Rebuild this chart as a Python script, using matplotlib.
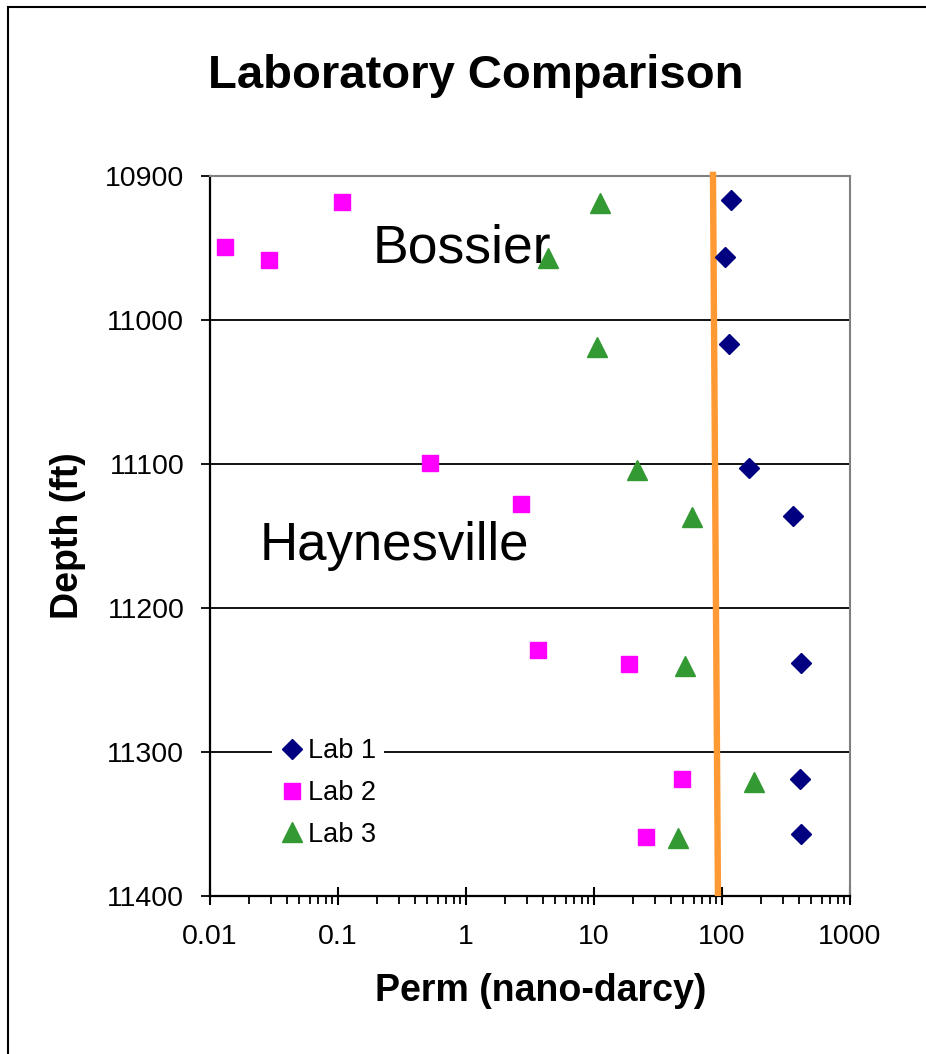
import matplotlib
matplotlib.use("Agg")
import matplotlib.pyplot as plt
from matplotlib.patches import Rectangle
from matplotlib.ticker import FixedLocator, LogLocator, NullFormatter

plt.rcParams['font.family'] = ['Liberation Sans', 'DejaVu Sans']

# ---- data ----
lab1_perm = [117, 105, 113, 163, 359, 414, 406, 414]
lab1_depth = [10917, 10956, 11017, 11103, 11136, 11238, 11319, 11357]

lab2_perm = [0.107, 0.0131, 0.0289, 0.524, 2.69, 3.65, 18.8, 48.7, 25.5]
lab2_depth = [10918, 10949, 10958, 11099, 11128, 11229, 11239, 11319, 11359]

lab3_perm = [11.1, 4.38, 10.5, 21.7, 58.3, 51.4, 178, 45.3]
lab3_depth = [10919, 10957, 11019, 11104, 11137, 11240, 11321, 11360]

cutoff_perm = [85, 93]
cutoff_depth = [10897, 11400]

x_ticks = [0.01, 0.1, 1, 10, 100, 1000]
x_ticklabels = ['0.01', '0.1', '1', '10', '100', '1000']
y_ticks = [10900, 11000, 11100, 11200, 11300, 11400]
y_ticklabels = ['10900', '11000', '11100', '11200', '11300', '11400']

W, H = 926, 1054
fig = plt.figure(figsize=(W / 100, H / 100), dpi=100)
ax = fig.add_axes([210 / W, 1 - 896 / H, 640 / W, 720 / H])

ax.set_xscale('log')
ax.set_xlim(0.01, 1000)
ax.set_ylim(11400, 10900)

# gridlines
ax.set_axisbelow(True)
ax.yaxis.grid(True, color='black', linewidth=1.3)
ax.xaxis.grid(False)

ax.plot(cutoff_perm, cutoff_depth, color='#FF9933', linewidth=4.6,
        solid_capstyle='butt', clip_on=False, zorder=3)

ax.plot(lab1_perm, lab1_depth, linestyle='none', marker='D', markersize=10,
        color='#000080', label='Lab 1', zorder=4, clip_on=False)
ax.plot(lab2_perm, lab2_depth, linestyle='none', marker='s', markersize=12,
        color='#FF00FF', label='Lab 2', zorder=4, clip_on=False)
ax.plot(lab3_perm, lab3_depth, linestyle='none', marker='^', markersize=14,
        color='#339933', label='Lab 3', zorder=4, clip_on=False)

ax.text(0.185, 10960, 'Bossier', fontsize=38.5, ha='left', va='baseline', zorder=2)
ax.text(0.0245, 11167, 'Haynesville', fontsize=38, ha='left', va='baseline', zorder=2)

# ticks
ax.xaxis.set_major_locator(FixedLocator(x_ticks))
ax.set_xticklabels(x_ticklabels)
ax.xaxis.set_minor_locator(LogLocator(base=10, subs=range(2, 10)))
ax.xaxis.set_minor_formatter(NullFormatter())
ax.set_yticks(y_ticks)
ax.set_yticklabels(y_ticklabels)
ax.tick_params(axis='x', which='major', direction='inout', length=13, width=1.5,
               labelsize=20.5, pad=14, color='black')
ax.tick_params(axis='x', which='minor', direction='out', length=6, width=1.3, color='black')
ax.tick_params(axis='y', which='major', direction='out', length=6.5, width=1.3,
               labelsize=20.5, pad=12, color='black')

for s in ['left', 'bottom']:
    ax.spines[s].set_color('black')
    ax.spines[s].set_linewidth(1.6)
for s in ['top', 'right']:
    ax.spines[s].set_color('#808080')
    ax.spines[s].set_linewidth(1.5)

ax.set_xlabel('Perm (nano-darcy)', fontsize=27, fontweight='bold')
ax.xaxis.set_label_coords((541 - 210) / 640, -(1001 - 896) / 720)
ax.xaxis.label.set_va('baseline')
ax.set_ylabel('Depth (ft)', fontsize=27, fontweight='bold')
ax.yaxis.set_label_coords((86 - 210) / 640, 0.5)

fig.text(476 / W, 1 - 88 / H, 'Laboratory Comparison', fontsize=34,
         fontweight='bold', ha='center', va='baseline')

leg = ax.legend(loc='center', bbox_to_anchor=((328 - 210) / 640, (896 - 793) / 720),
                fontsize=19.5, frameon=True, fancybox=False, framealpha=1,
                facecolor='white', edgecolor='none', handlelength=0.9,
                handletextpad=0.15, labelspacing=0.58, borderpad=0.3,
                borderaxespad=0)
leg.set_zorder(5)

# outer chart border (left and top edges visible)
fig.patches.append(Rectangle((8 / W, -0.05), 1.2, 1.05 - 7 / H,
                             transform=fig.transFigure, fill=False,
                             edgecolor='black', linewidth=1.5))

fig.savefig('out.png', dpi=100)
